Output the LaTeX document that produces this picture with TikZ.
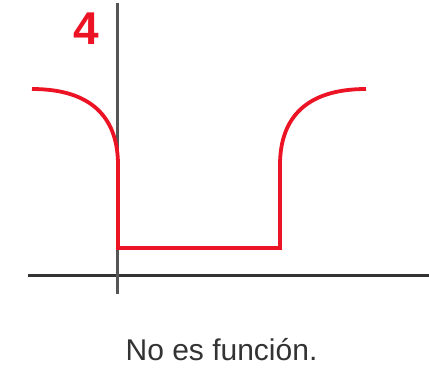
\documentclass[tikz,border=0pt]{standalone}
\usepackage{fontspec}
\setmainfont{Liberation Sans}
\usepackage{xcolor}
\usepackage{tikz}
\definecolor{curvered}{RGB}{236,20,36}
\definecolor{axisgray}{RGB}{85,85,85}

\begin{document}
\begin{tikzpicture}[
  x=1pt, y=-1pt,
  axis/.style={line width=3.5pt, axisgray},
  curve/.style={line width=3.8pt, curvered, line join=miter},
  lab/.style={inner sep=0pt, align=center}
]
\useasboundingbox (0,0) rectangle (429,386);
% axes
\coordinate (xl) at (28,275.5);
\coordinate (xr) at (429,275.5);
\coordinate (yt) at (117.5,3);
\coordinate (yb) at (117.5,294);
\draw[axis, black!80] (xl) -- (xr);
\draw[axis] (yt) -- (yb);
% red curve
\draw[curve] (32,89) .. controls (92,89) and (118,118) .. (118,165)
  -- (118,248) -- (280,248) -- (280,165)
  .. controls (280,118) and (306,89) .. (366,89);
\node[lab, text=curvered, font=\fontsize{46}{46}\selectfont\bfseries] (num) at (86,29) {4};
\node[lab, text=black!80, font=\fontsize{30}{30}\selectfont] (cap) at (221.5,350) {No es función.};
\end{tikzpicture}
\end{document}
